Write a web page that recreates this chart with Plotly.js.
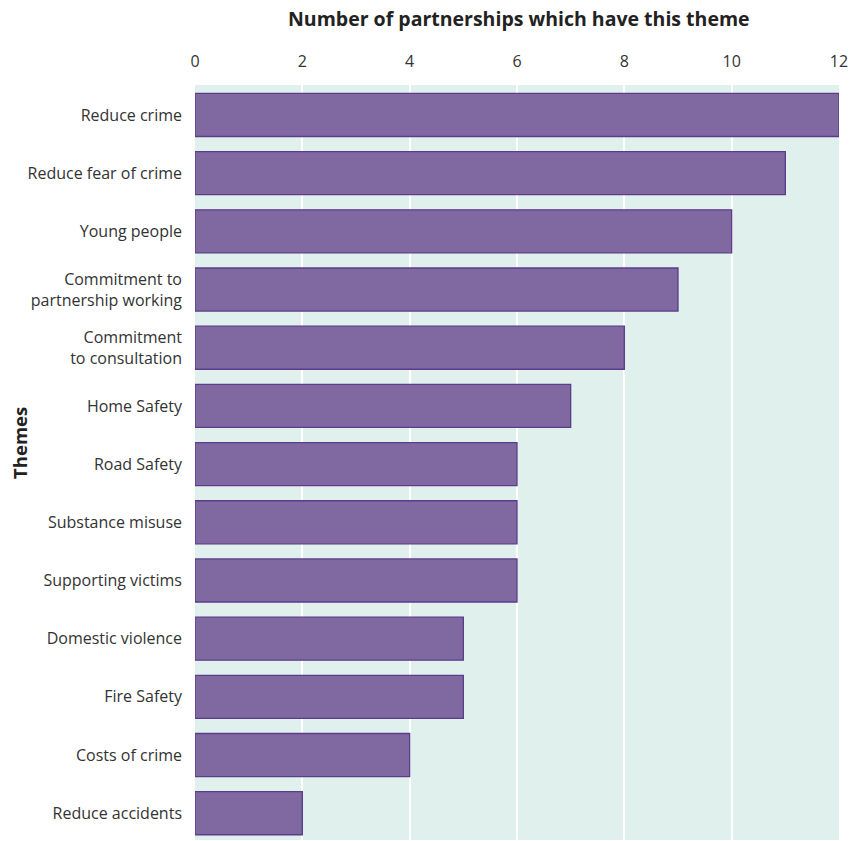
<!DOCTYPE html>
<html><head><meta charset="utf-8">
<script src="https://cdn.plot.ly/plotly-3.0.1.min.js"></script>
<style>html,body{margin:0;padding:0;background:#fff}</style>
</head><body>
<div id="chart" style="width:851px;height:841px"></div>
<script>
const themes = ["Reduce crime","Reduce fear of crime","Young people","Commitment to<br>partnership working","Commitment<br>to consultation","Home Safety","Road Safety","Substance misuse","Supporting victims","Domestic violence","Fire Safety","Costs of crime","Reduce accidents"];
const counts = [12,11,10,9,8,7,6,6,6,5,5,4,2];
const xTicks = [0,2,4,6,8,10,12];

Plotly.newPlot('chart', [{
  type: 'bar', orientation: 'h', x: counts, y: themes,
  width: 0.74,
  marker: {color: '#8068a0', line: {color: '#5b3c8c', width: 1.3}},
  hoverinfo: 'none'
}], {
  width: 851, height: 841,
  margin: {l: 195, r: 12, t: 85, b: 1},
  paper_bgcolor: '#ffffff', plot_bgcolor: '#e0f0ec',
  font: {family: 'Open Sans, Noto Sans, sans-serif', size: 16, color: '#333333'},
  xaxis: {side: 'top', range: [0, 12], tickvals: xTicks, ticktext: xTicks.map(String),
    showgrid: true, gridcolor: '#ffffff', gridwidth: 2, zeroline: false, showline: false,
    ticks: '', ticklen: 0, ticklabelstandoff: 14, tickfont: {size: 16, color: '#333333'}},
  yaxis: {type: 'category', range: [12.46, -0.515], showgrid: false, zeroline: false, showline: false,
    ticks: '', tickfont: {size: 16, color: '#333333'}, ticklabelstandoff: 12},
  annotations: [
    {text: '<b>Number of partnerships which have this theme</b>', xref: 'paper', yref: 'paper',
     x: 0.503, y: 1.0887, xanchor: 'center', yanchor: 'middle', showarrow: false,
     font: {size: 19.5, color: '#222222'}},
    {text: '<b>Themes</b>', xref: 'paper', yref: 'paper', textangle: -90,
     x: -0.2717, y: 0.526, xanchor: 'center', yanchor: 'middle', showarrow: false,
     font: {size: 18.5, color: '#222222'}}
  ],
  showlegend: false
}, {displayModeBar: false, staticPlot: true});
</script>
</body></html>
